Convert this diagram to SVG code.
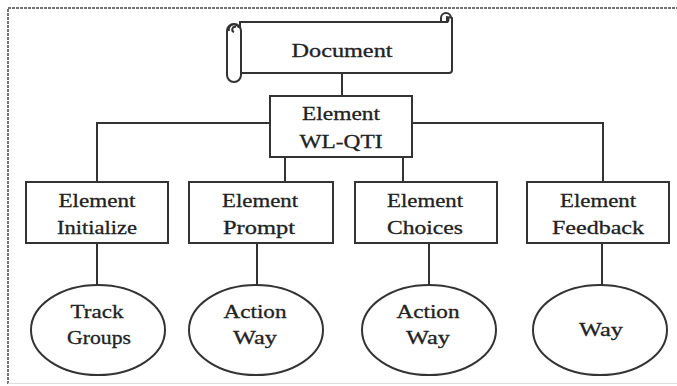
<svg xmlns="http://www.w3.org/2000/svg" width="677" height="386" viewBox="0 0 677 386">
<style>
.s{fill:#fff;stroke:#333;stroke-width:2}
.c{fill:none;stroke:#333;stroke-width:2}
.t{font-size:19px;fill:#222;stroke:#222;stroke-width:0.3;text-anchor:middle}
</style>
<rect width="677" height="386" fill="#fff"/>
<path d="M8,384 V8 H677" fill="none" stroke="#444" stroke-width="1.5" stroke-dasharray="3,1"/>
<line x1="8" y1="383.5" x2="677" y2="383.5" stroke="#ddd" stroke-width="1"/>
<g id="connectors" class="c">
<line x1="342" y1="73" x2="342" y2="96"/>
<polyline points="97,182 97,123 270,123"/>
<polyline points="412,123 603,123 603,182"/>
<line x1="285" y1="157" x2="285" y2="182"/>
<line x1="403" y1="157" x2="403" y2="182"/>
<line x1="97" y1="243" x2="97" y2="285"/>
<line x1="257" y1="243" x2="257" y2="285"/>
<line x1="429" y1="243" x2="429" y2="285"/>
<line x1="602" y1="243" x2="602" y2="285"/>
</g>
<g id="document">
<path class="s" d="M240,22 H447 V18 A5,5 0 0 1 452,18 V70 Q452,73 449,73 H240 Z"/>
<path class="c" d="M441,22 V18 A5,5 0 0 1 451,18 M446,22 A2.5,2.5 0 0 0 446,17"/>
<rect class="s" x="227" y="24" width="14" height="58" rx="7"/>
<path class="c" d="M229,31 A5,5 0 0 1 239,28 M234,32 A2.5,2.5 0 0 1 236,27"/>
<text class="t" font-family="Liberation Serif" x="342" y="57" textLength="101" lengthAdjust="spacingAndGlyphs">Document</text>
</g>
<g id="wlqti">
<rect class="s" x="270" y="96" width="142" height="61"/>
<text class="t" font-family="Liberation Serif" x="341" y="120" textLength="78" lengthAdjust="spacingAndGlyphs">Element</text>
<text class="t" font-family="Liberation Serif" x="341" y="148" textLength="83" lengthAdjust="spacingAndGlyphs">WL-QTI</text>
</g>
<g id="initialize">
<rect class="s" x="26" y="182" width="142" height="61"/>
<text class="t" font-family="Liberation Serif" x="97" y="207" textLength="77" lengthAdjust="spacingAndGlyphs">Element</text>
<text class="t" font-family="Liberation Serif" x="97" y="234" textLength="80" lengthAdjust="spacingAndGlyphs">Initialize</text>
</g>
<g id="prompt">
<rect class="s" x="189" y="182" width="144" height="61"/>
<text class="t" font-family="Liberation Serif" x="260" y="207" textLength="76" lengthAdjust="spacingAndGlyphs">Element</text>
<text class="t" font-family="Liberation Serif" x="259" y="234" textLength="72" lengthAdjust="spacingAndGlyphs">Prompt</text>
</g>
<g id="choices">
<rect class="s" x="355" y="182" width="142" height="61"/>
<text class="t" font-family="Liberation Serif" x="425" y="207" textLength="76" lengthAdjust="spacingAndGlyphs">Element</text>
<text class="t" font-family="Liberation Serif" x="425" y="234" textLength="76" lengthAdjust="spacingAndGlyphs">Choices</text>
</g>
<g id="feedback">
<rect class="s" x="527" y="182" width="142" height="61"/>
<text class="t" font-family="Liberation Serif" x="598" y="207" textLength="76" lengthAdjust="spacingAndGlyphs">Element</text>
<text class="t" font-family="Liberation Serif" x="598" y="234" textLength="92" lengthAdjust="spacingAndGlyphs">Feedback</text>
</g>
<g id="trackgroups">
<ellipse class="s" cx="98" cy="330" rx="67" ry="45"/>
<text class="t" font-family="Liberation Serif" x="97" y="318" textLength="53" lengthAdjust="spacingAndGlyphs">Track</text>
<text class="t" font-family="Liberation Serif" x="99" y="344" textLength="64" lengthAdjust="spacingAndGlyphs">Groups</text>
</g>
<g id="actionway1">
<ellipse class="s" cx="256" cy="330" rx="67" ry="45"/>
<text class="t" font-family="Liberation Serif" x="255" y="318" textLength="63" lengthAdjust="spacingAndGlyphs">Action</text>
<text class="t" font-family="Liberation Serif" x="255" y="344" textLength="44" lengthAdjust="spacingAndGlyphs">Way</text>
</g>
<g id="actionway2">
<ellipse class="s" cx="429" cy="330" rx="67" ry="45"/>
<text class="t" font-family="Liberation Serif" x="428" y="318" textLength="63" lengthAdjust="spacingAndGlyphs">Action</text>
<text class="t" font-family="Liberation Serif" x="428" y="344" textLength="44" lengthAdjust="spacingAndGlyphs">Way</text>
</g>
<g id="way">
<ellipse class="s" cx="600" cy="330" rx="67" ry="45"/>
<text class="t" font-family="Liberation Serif" x="601" y="336" textLength="44" lengthAdjust="spacingAndGlyphs">Way</text>
</g>
</svg>
